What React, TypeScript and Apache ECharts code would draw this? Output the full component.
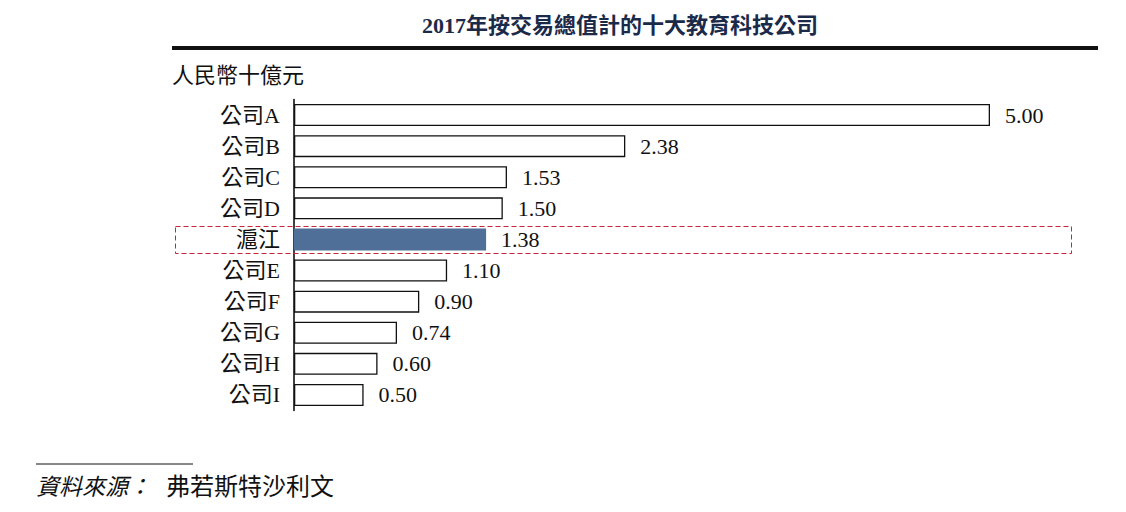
import React, { useEffect, useRef } from "react";
import * as echarts from "echarts";

const categories = ["公司A", "公司B", "公司C", "公司D", "滬江", "公司E", "公司F", "公司G", "公司H", "公司I"];
const values = [5.0, 2.38, 1.53, 1.5, 1.38, 1.1, 0.9, 0.74, 0.6, 0.5];
const highlight = "滬江";
const titleText = "2017年按交易總值計的十大教育科技公司";
const unitText = "人民幣十億元";
const sourceLabel = "資料來源：";
const sourceText = "弗若斯特沙利文";

const FONT = "'Liberation Serif', 'Noto Sans CJK TC', serif";

export default function App() {
  const ref = useRef<HTMLDivElement>(null);
  useEffect(() => {
    if (!ref.current) return;
    const chart = echarts.init(ref.current, null, { renderer: "svg" });
    chart.setOption({
      animation: false,
      backgroundColor: "#ffffff",
      grid: { left: 294, top: 99.5, height: 311, width: 765.6, containLabel: false },
      xAxis: { type: "value", min: 0, max: 5.5, show: false },
      yAxis: {
        type: "category",
        data: categories,
        inverse: true,
        axisLine: { show: true, lineStyle: { color: "#000", width: 1.5 } },
        axisTick: { show: false },
        axisLabel: { color: "#111", fontSize: 22, fontFamily: FONT, margin: 14 },
      },
      series: [
        {
          type: "bar",
          barWidth: 22,
          data: values.map((v, i) => ({
            value: v,
            itemStyle:
              categories[i] === highlight
                ? { color: "#4f6f98", borderWidth: 0 }
                : { color: "#ffffff", borderColor: "#111", borderWidth: 1.3 },
          })),
          label: {
            show: true,
            position: "right",
            distance: 15,
            formatter: (p: any) => p.value.toFixed(2),
            color: "#111",
            fontSize: 22,
            fontFamily: FONT,
          },
        },
      ],
      graphic: [
        {
          type: "text",
          x: 620,
          y: 25,
          style: {
            text: titleText,
            fill: "#1c2a4a",
            font: `bold 22px ${FONT}`,
            textAlign: "center",
            textVerticalAlign: "middle",
          },
        },
        {
          type: "rect",
          shape: { x: 172, y: 46, width: 926, height: 4 },
          style: { fill: "#111" },
        },
        {
          type: "text",
          x: 172,
          y: 75,
          style: {
            text: unitText,
            fill: "#111",
            font: `22px ${FONT}`,
            textAlign: "left",
            textVerticalAlign: "middle",
          },
        },
        {
          type: "rect",
          shape: { x: 175.5, y: 226.5, width: 896, height: 27 },
          style: { fill: "none", stroke: "#c8243a", lineWidth: 1, lineDash: [5, 3] },
          z: 10,
        },
        {
          type: "line",
          shape: { x1: 36, y1: 464, x2: 193, y2: 464 },
          style: { stroke: "#111", lineWidth: 1 },
        },
        {
          type: "text",
          x: 36,
          y: 487,
          style: {
            text: sourceLabel,
            fill: "#111",
            font: `italic 23px ${FONT}`,
            textAlign: "left",
            textVerticalAlign: "middle",
          },
        },
        {
          type: "text",
          x: 166,
          y: 487,
          style: {
            text: sourceText,
            fill: "#111",
            font: `24px ${FONT}`,
            textAlign: "left",
            textVerticalAlign: "middle",
          },
        },
      ],
    });
    return () => chart.dispose();
  }, []);
  return (
    <div
      ref={ref}
      style={{ position: "fixed", left: 0, top: 0, width: 1126, height: 512 }}
    />
  );
}
